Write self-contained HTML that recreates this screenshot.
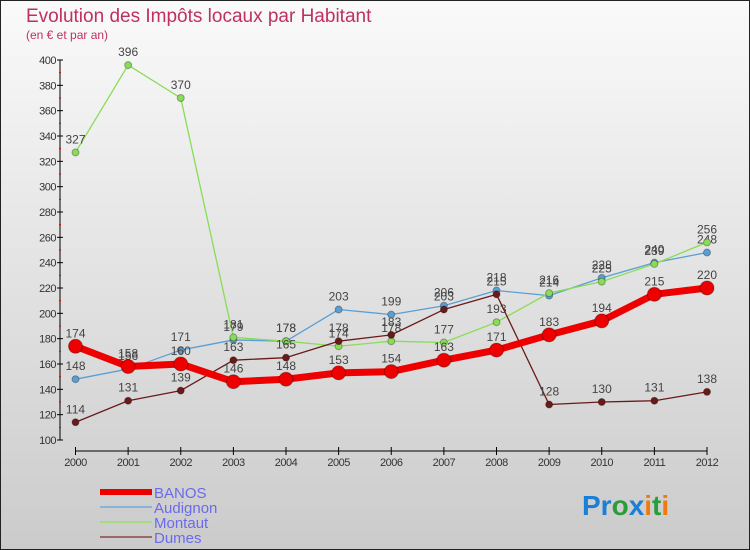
<!DOCTYPE html>
<html><head><meta charset="utf-8"><style>
body{margin:0;width:750px;height:550px;overflow:hidden}
svg{display:block;font-family:"Liberation Sans",sans-serif}
</style></head><body>
<svg id="c" width="750" height="550">
<defs><linearGradient id="bg" x1="0" y1="0" x2="0" y2="1"><stop offset="0" stop-color="#fafafa"/><stop offset="1" stop-color="#cbcbcb"/></linearGradient></defs>
<rect x="0.5" y="0.5" width="749" height="549" fill="url(#bg)" stroke="#222"/>
<text x="26" y="22" font-size="19" fill="#c0305f">Evolution des Impôts locaux par Habitant</text>
<text x="26" y="39" font-size="12" fill="#c0305f">(en € et par an)</text>
<g id="axes"></g><g id="series"></g><g id="legend"></g>
<text x="582" y="515" font-size="28" font-weight="bold"><tspan fill="#1a7fd6">Pr</tspan><tspan fill="#2a9d3a">o</tspan><tspan fill="#1a7fd6">x</tspan><tspan fill="#f07a10">i</tspan><tspan fill="#2a9d3a">t</tspan><tspan fill="#f07a10">i</tspan></text>
</svg>
<script>
const years=[2000,2001,2002,2003,2004,2005,2006,2007,2008,2009,2010,2011,2012];
const yTicks=[100,120,140,160,180,200,220,240,260,280,300,320,340,360,380,400];
const banos=[174,158,160,146,148,153,154,163,171,183,194,215,220];
const audignon=[148,156,171,179,178,203,199,206,218,214,228,240,248];
const montaut=[327,396,370,181,178,174,178,177,193,216,225,239,256];
const dumes=[114,131,139,163,165,178,183,203,215,128,130,131,138];
const NS="http://www.w3.org/2000/svg";
const x=i=>75.5+i*(707-75.5)/12;
const y=v=>440-(v-100)*380/300;
function mk(p,t,a){const e=document.createElementNS(NS,t);for(const k in a)e.setAttribute(k,a[k]);p.appendChild(e);return e;}
const ax=document.getElementById('axes');
let e=mk(ax,'line',{x1:60,y1:y(400),x2:60,y2:y(100),stroke:'#000'});

e=mk(ax,'line',{x1:75,y1:451,x2:707,y2:451,stroke:'#000'});

yTicks.forEach(v=>{mk(ax,'line',{x1:57,y1:y(v),x2:63,y2:y(v),stroke:'#000'});
mk(ax,'line',{x1:59,y1:y(v+10),x2:61,y2:y(v+10),stroke:v<400?'#d00':'none'});
const t=mk(ax,'text',{x:56,y:y(v)+4,'font-size':11,'text-anchor':'end',fill:'#333','letter-spacing':'-0.5'});t.textContent=v;
});
years.forEach((yr,i)=>{mk(ax,'line',{x1:x(i),y1:447,x2:x(i),y2:455,stroke:'#000'});
const t=mk(ax,'text',{x:x(i),y:466,'font-size':11,'text-anchor':'middle',fill:'#333','letter-spacing':'-0.5'});t.textContent=yr;
});
const S=[{n:'Audignon',d:audignon,c:'#5a9fd4',w:1.3,r:3.5},{n:'Montaut',d:montaut,c:'#88dd55',w:1.3,r:3.5},{n:'Dumes',d:dumes,c:'#6b1a1a',w:1.3,r:3.5},{n:'BANOS',d:banos,c:'#ee0000',w:7,r:7}];
const sg=document.getElementById('series');
S.forEach(s=>{const g=mk(sg,'g',{});

mk(g,'polyline',{points:s.d.map((v,i)=>x(i)+','+y(v)).join(' '),fill:'none',stroke:s.c,'stroke-width':s.w,'stroke-linejoin':'round'});
s.d.forEach((v,i)=>{const c=mk(g,'circle',{cx:x(i),cy:y(v),r:s.r,fill:s.c,stroke:'rgba(0,0,0,0.3)'});

const t=mk(g,'text',{x:x(i),y:y(v)-9,'font-size':12,'text-anchor':'middle',fill:'#444'});t.textContent=v;
});});
const lg=document.getElementById('legend');
[{n:'BANOS',c:'#ee0000',w:6},{n:'Audignon',c:'#88b4d8',w:2},{n:'Montaut',c:'#a4dc80',w:2},{n:'Dumes',c:'#9a6a6a',w:2}].forEach((s,i)=>{
const yy=492+i*15;
const l=mk(lg,'line',{x1:100,y1:yy,x2:152,y2:yy,stroke:s.c,'stroke-width':s.w});

const t=mk(lg,'text',{x:154,y:yy+6,'font-size':15,fill:'#6a6aee'});t.textContent=s.n;
});
</script>
</body></html>
